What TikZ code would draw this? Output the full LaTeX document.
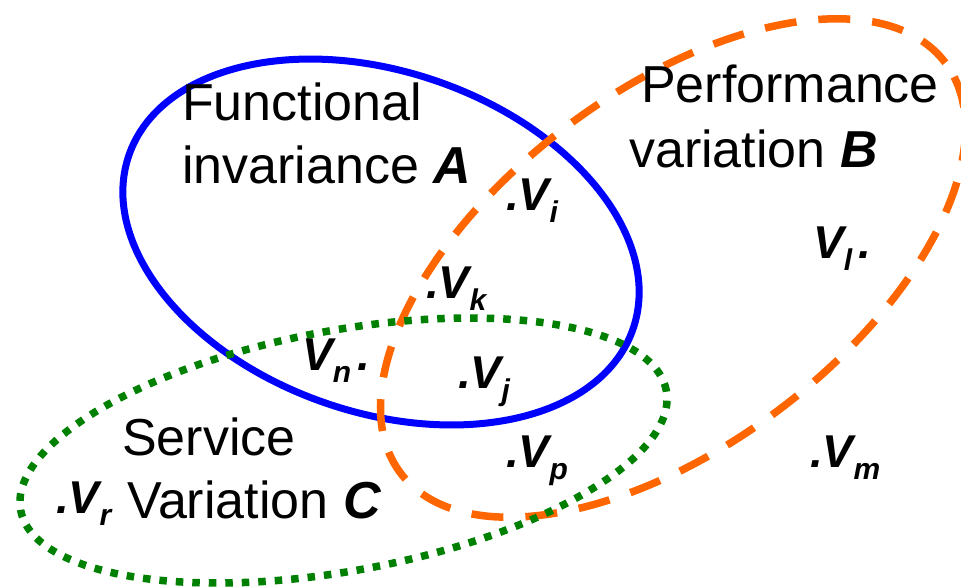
\documentclass[tikz,border=0pt]{standalone}
\usepackage{fontspec}
\setmainfont{Liberation Sans}
\definecolor{ored}{RGB}{255,102,0}
\definecolor{dgreen}{RGB}{0,128,0}
\definecolor{fblue}{RGB}{0,0,255}
\newcommand\bigtxt{\fontsize{52}{63}\selectfont}
\newcommand\lbf{\fontsize{46}{50}\selectfont\bfseries\itshape}
\newcommand\sbf{\fontsize{30}{30}\selectfont\bfseries\itshape}
\newcommand\vlab[2]{{\lbf #1}\raisebox{-12pt}{\sbf #2}}
\tikzset{
  blueline/.style={draw=fblue, line width=7pt},
  orangeline/.style={draw=ored, line width=7.5pt, dash pattern=on 32pt off 22pt},
  greenline/.style={draw=dgreen, line width=7.5pt, dash pattern=on 7.5pt off 9pt},
  txt/.style={anchor=base west, inner sep=0pt, font=\bigtxt},
  lab/.style={anchor=base west, inner sep=0pt}
}
\begin{document}
\begin{tikzpicture}[x=1pt,y=-1pt]
\useasboundingbox (0,0) rectangle (961,587);
% sets
\draw[blueline, rotate around={-19:(381,242)}] (381,242) ellipse [x radius=266.6pt, y radius=170.3pt];
\draw[orangeline, rotate around={37:(673,268)}] (673,268) ellipse [x radius=341pt, y radius=177pt];
\draw[greenline, rotate around={10.5:(343.5,450.5)}] (343.5,450.5) ellipse [x radius=328.3pt, y radius=120.2pt];
% set names
\node[txt] (fa1) at (182,120) {Functional};
\node[txt] (fa2) at (182,183) {invariance \textbf{\textit{A}}};
\node[txt] (pb1) at (641,102) {Performance};
\node[txt] (pb2) at (629,167) {variation \textbf{\textit{B}}};
\node[txt] (sc1) at (122,455) {Service};
\node[txt] (sc2) at (127,518) {Variation \textbf{\textit{C}}};
% elements
\node[lab] (vi) at (506,210) {\vlab{.V}{i}};
\node[lab] (vk) at (426,298) {\vlab{.V}{k}};
\node[lab] (vj) at (458,388) {\vlab{.V}{j}};
\node[lab] (vp) at (506,467) {\vlab{.V}{p}};
\node[lab] (vm) at (810,467) {\vlab{.V}{m}};
\node[lab] (vr) at (56,513) {\vlab{.V}{r}};
\node[lab] (vn) at (302,370) {\vlab{V}{n}\hspace{6pt}{\lbf .}};
\node[lab] (vl) at (813,258) {\vlab{V}{l}\hspace{6pt}{\lbf .}};
\end{tikzpicture}
\end{document}
